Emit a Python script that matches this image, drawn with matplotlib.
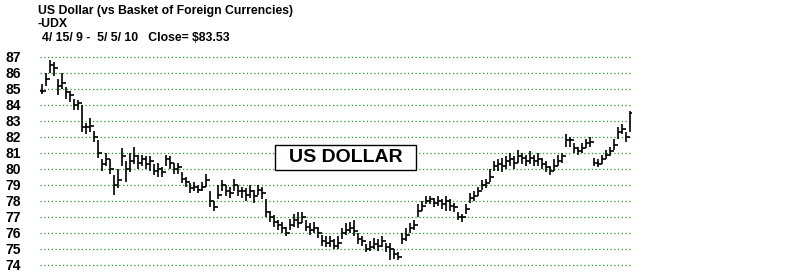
import numpy as np
import matplotlib.pyplot as plt
from matplotlib.patches import Rectangle

plt.rcParams['font.family'] = ['Liberation Sans', 'DejaVu Sans']

# daily-ish OHLC bars (open = previous close)
highs = [85.3, 86.0, 86.8, 86.7, 85.6, 86.0, 85.1, 84.9, 84.4, 84.3,
         84.0, 82.9, 83.2, 82.4, 81.8, 80.6, 81.0, 80.6, 79.6, 80.0,
         81.3, 80.5, 81.0, 81.4, 80.9, 80.9, 80.8, 80.8, 80.3, 80.4,
         80.1, 80.9, 80.8, 80.4, 80.4, 79.8, 79.5, 79.1, 79.2, 79.0,
         79.2, 79.7, 78.6, 78.0, 79.0, 79.3, 79.0, 78.9, 79.4, 79.0,
         78.9, 78.8, 79.0, 78.7, 79.0, 78.9, 78.1, 77.4, 77.1, 76.8,
         76.7, 76.4, 76.9, 77.2, 77.3, 77.3, 76.8, 76.6, 76.7, 76.4,
         75.9, 75.8, 75.8, 75.6, 75.8, 76.3, 76.6, 76.7, 76.8, 76.0,
         75.8, 75.3, 75.5, 75.7, 75.6, 75.8, 75.4, 75.4, 75.0, 74.8,
         76.0, 76.3, 76.6, 76.8, 77.8, 78.0, 78.3, 78.3, 78.2, 78.3,
         78.1, 78.3, 78.1, 77.9, 77.3, 77.2, 77.8, 78.5, 78.6, 78.9,
         79.3, 79.4, 80.0, 80.5, 80.6, 80.7, 80.8, 81.0, 80.8, 81.2,
         81.0, 80.9, 81.1, 80.9, 81.0, 80.7, 80.5, 80.2, 80.6, 80.9,
         81.0, 82.2, 82.0, 81.6, 81.4, 81.6, 81.9, 82.0, 80.7, 80.6,
         80.9, 81.2, 81.4, 81.9, 82.6, 82.8, 82.3, 83.6]
lows = [84.7, 85.2, 86.0, 85.8, 84.6, 85.0, 84.4, 84.2, 83.7, 83.7,
        82.3, 82.2, 82.3, 81.7, 80.7, 79.9, 80.2, 79.7, 78.4, 78.8,
        80.2, 79.2, 79.8, 80.3, 80.0, 80.2, 80.0, 79.9, 79.6, 79.5,
        79.5, 80.2, 80.0, 79.7, 79.7, 79.1, 78.9, 78.5, 78.6, 78.5,
        78.6, 78.9, 77.6, 77.4, 78.1, 78.6, 78.3, 78.2, 78.6, 78.3,
        78.2, 78.0, 78.2, 77.9, 78.4, 78.1, 77.0, 76.7, 76.4, 76.2,
        76.0, 75.8, 76.2, 76.4, 76.3, 76.6, 76.1, 75.9, 76.0, 75.7,
        75.2, 75.1, 75.1, 75.0, 75.0, 75.6, 75.9, 76.0, 75.8, 75.3,
        75.2, 74.8, 74.9, 75.0, 74.9, 75.1, 74.8, 74.3, 74.4, 74.3,
        75.3, 75.5, 76.0, 76.2, 77.0, 77.4, 77.8, 77.8, 77.6, 77.7,
        77.5, 77.4, 77.4, 77.3, 76.8, 76.7, 77.2, 77.9, 78.0, 78.3,
        78.7, 78.8, 79.2, 79.9, 79.9, 79.8, 80.0, 80.2, 80.0, 80.4,
        80.3, 80.2, 80.3, 80.2, 80.2, 80.0, 79.8, 79.6, 79.9, 80.2,
        80.4, 81.4, 81.4, 81.0, 80.9, 81.0, 81.3, 81.4, 80.2, 80.1,
        80.3, 80.6, 80.8, 81.2, 81.9, 82.2, 81.7, 82.3]
closes = [84.9, 85.6, 86.5, 86.3, 85.2, 85.4, 84.8, 84.6, 84.0, 84.1,
          82.6, 82.6, 82.7, 82.0, 81.0, 80.3, 80.6, 80.0, 79.0, 79.3,
          80.8, 80.0, 80.5, 80.8, 80.4, 80.6, 80.3, 80.5, 79.9, 80.0,
          79.8, 80.6, 80.4, 80.0, 80.1, 79.4, 79.2, 78.8, 78.9, 78.7,
          78.9, 79.3, 78.0, 77.6, 78.4, 79.0, 78.6, 78.5, 79.0, 78.6,
          78.6, 78.4, 78.6, 78.3, 78.7, 78.5, 77.3, 77.0, 76.7, 76.5,
          76.3, 76.0, 76.5, 76.8, 76.6, 77.0, 76.4, 76.2, 76.3, 76.0,
          75.5, 75.4, 75.5, 75.2, 75.4, 76.0, 76.2, 76.3, 76.1, 75.6,
          75.5, 75.0, 75.1, 75.3, 75.2, 75.5, 75.1, 75.0, 74.7, 74.5,
          75.6, 75.9, 76.3, 76.5, 77.4, 77.7, 78.0, 78.1, 77.9, 78.0,
          77.8, 78.0, 77.7, 77.6, 77.0, 77.0, 77.5, 78.2, 78.3, 78.6,
          79.0, 79.1, 79.5, 80.2, 80.3, 80.2, 80.5, 80.6, 80.4, 80.8,
          80.7, 80.5, 80.7, 80.5, 80.6, 80.3, 80.1, 79.9, 80.2, 80.5,
          80.8, 81.8, 81.8, 81.3, 81.1, 81.3, 81.6, 81.7, 80.4, 80.3,
          80.6, 80.9, 81.1, 81.5, 82.3, 82.5, 82.0, 83.53]
y_ticks = list(range(74, 88))

n = len(closes)
opens = [closes[0]] + closes[:-1]
x = np.arange(n)

fig = plt.figure(figsize=(8, 2.72), dpi=100)
ax = fig.add_axes([40 / 800, 5.4 / 272, 592 / 800, 211.2 / 272])

for yv in y_ticks:
    ax.axhline(yv, color='#1e9e1e', lw=0.9, ls=(0, (1, 2)), zorder=1)

ax.vlines(x, lows, highs, color='black', lw=1.2, zorder=3)
ax.hlines(opens, x - 0.45, x, color='black', lw=1.2, zorder=3)
ax.hlines(closes, x, x + 0.45, color='black', lw=1.2, zorder=3)

ax.set_xlim(-0.5, n - 0.5)
ax.set_ylim(73.9, 87.1)
ax.set_xticks([])
ax.set_yticks(y_ticks)
ax.set_yticklabels([str(v) for v in y_ticks], fontsize=10, fontweight='bold')
for lbl in ax.get_yticklabels():
    lbl.set_horizontalalignment('left')
# labels start ~35 px left of the plot area
ax.tick_params(axis='y', length=0, pad=25)
for s in ax.spines.values():
    s.set_visible(False)

fig.text(38 / 800, 1 - 11 / 272, 'US Dollar (vs Basket of Foreign Currencies)',
         fontsize=8.8, fontweight='bold', va='center', ha='left')
fig.text(38 / 800, 1 - 24 / 272, '-UDX', fontsize=8.8, fontweight='bold',
         va='center', ha='left')
fig.text(42 / 800, 1 - 38 / 272, '4/ 15/ 9 -  5/ 5/ 10   Close= $83.53',
         fontsize=8.8, fontweight='bold', va='center', ha='left')

fig.patches.append(Rectangle((275 / 800, 1 - 170 / 272), 141 / 800, 25 / 272,
                             transform=fig.transFigure, facecolor='white',
                             edgecolor='black', lw=1, zorder=5))
fig.text(345.5 / 800, 1 - 157.5 / 272, 'US DOLLAR', fontsize=14, fontweight='bold',
         ha='center', va='center', zorder=6)

fig.savefig('out.png', dpi=100)
